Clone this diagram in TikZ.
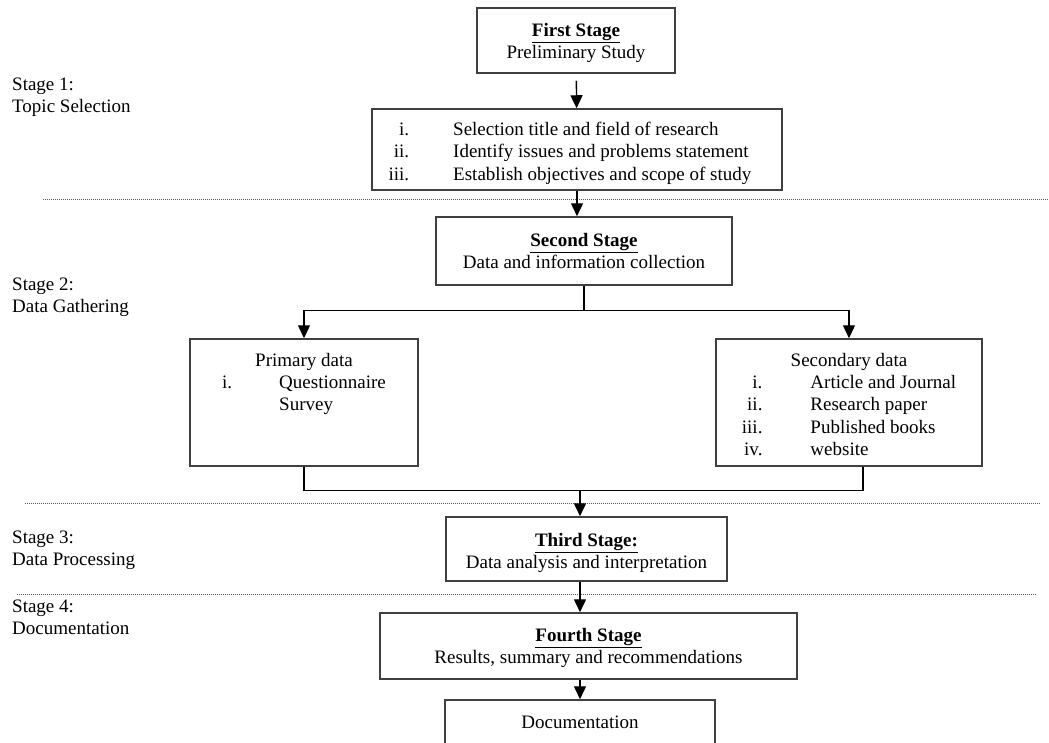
\documentclass[tikz,border=0pt]{standalone}
\usepackage{fontspec}
\setmainfont{Liberation Serif}
\usetikzlibrary{shapes,arrows.meta}
\usetikzlibrary{positioning}

\begin{document}
\begin{tikzpicture}[x=1pt,y=-1pt,
    every node/.style={font=\fontsize{19}{22.4}\selectfont},
    stagebox/.style={draw=black!75,line width=1.5pt,align=center,inner sep=0pt},
    boxtext/.style={inner sep=0pt,align=center},
    arr/.style={-{Triangle[length=13pt,width=12pt]},line width=1.4pt},
    sepline/.style={dash pattern=on 1pt off 1pt,line width=1pt,black!65},
    stagelabel/.style={anchor=west,align=left,inner sep=0pt}]
    \useasboundingbox (0,0) rectangle (1049,742);
    \clip (0,0) rectangle (1049,742);
    \coordinate (spine) at (580,0);

    % stage labels on the left
    \node[stagelabel] (lab1) at (12,97) {Stage 1:\\Topic Selection};
    \node[stagelabel] (lab2) at (12,297) {Stage 2:\\Data Gathering};
    \node[stagelabel] (lab3) at (12,550) {Stage 3:\\Data Processing};
    \node[stagelabel] (lab4) at (12,617) {Stage 4:\\Documentation};

    % stage boundaries
    \draw[sepline] (43,199) -- (1049,199);
    \draw[sepline] (25,503) -- (1040,503);
    \draw[sepline] (17,594) -- (1037,594);

    % stage 1
    \node[stagebox,minimum width=198,minimum height=65] (first) at (576,40.5) {};
    \node[boxtext] (firstT) at ([yshift=-2.5pt]first.center)
        {\underline{\textbf{First Stage}}\\Preliminary Study};
    \node[stagebox,minimum width=410,minimum height=81] (topics) at (577,149.5) {};
    \node[boxtext] (topicsT) at ([xshift=-7pt,yshift=-4pt]topics.center)
        {\begin{tabular}{@{}r@{\hspace{44pt}}l@{}}
         i. & Selection title and field of research\\
         ii. & Identify issues and problems statement\\
         iii. & Establish objectives and scope of study
         \end{tabular}};

    % stage 2
    \node[stagebox,minimum width=296,minimum height=68] (second) at (584,251)
        {\underline{\textbf{Second Stage}}\\Data and information collection};
    \node[stagebox,minimum width=228,minimum height=127] (pri) at (304,402.5) {};
    \node[boxtext,below=12pt of pri.north] (priT)
        {\begin{tabular}{@{}r@{\hspace{47pt}}l@{}}
         \multicolumn{2}{c}{Primary data}\\
         i. & Questionnaire\\
          & Survey
         \end{tabular}};
    \node[stagebox,minimum width=266,minimum height=127] (sec) at (849,402.5) {};
    \node[boxtext,below=12pt of sec.north] (secT)
        {\begin{tabular}{@{}r@{\hspace{48pt}}l@{}}
         \multicolumn{2}{c}{Secondary data}\\
         i. & Article and Journal\\
         ii. & Research paper\\
         iii. & Published books\\
         iv. & website
         \end{tabular}};

    % stage 3 and 4
    \node[stagebox,minimum width=281,minimum height=64] (third) at (586.5,549) {};
    \node[boxtext] (thirdT) at ([yshift=-4pt]third.center)
        {\underline{\textbf{Third Stage:}}\\Data analysis and interpretation};
    \node[stagebox,minimum width=417,minimum height=66] (fourth) at (588.5,646) {};
    \node[boxtext] (fourthT) at ([yshift=-2pt]fourth.center)
        {\underline{\textbf{Fourth Stage}}\\Results, summary and recommendations};
    \node[stagebox,minimum width=270,minimum height=44] (doc) at (580,722)
        {Documentation};

    % connectors
    \draw[arr,shorten <=7pt] (first) -- (topics);
    \draw[arr] (topics.south) -- (topics.south |- second.north);
    \draw[line width=1.4pt] (second.south) -- ++(0,25) coordinate (split);
    \draw[arr] (split) -| (pri.north);
    \draw[arr] (split) -| (sec.north);
    \draw[line width=1.4pt] (pri.south) -- ++(0,24) coordinate (merge)
        -| ([xshift=14pt]sec.south);
    \draw[arr] (spine |- merge) -- (spine |- third.north);
    \draw[arr] (spine |- third.south) -- (spine |- fourth.north);
    \draw[arr] (spine |- fourth.south) -- (spine |- doc.north);
\end{tikzpicture}
\end{document}
